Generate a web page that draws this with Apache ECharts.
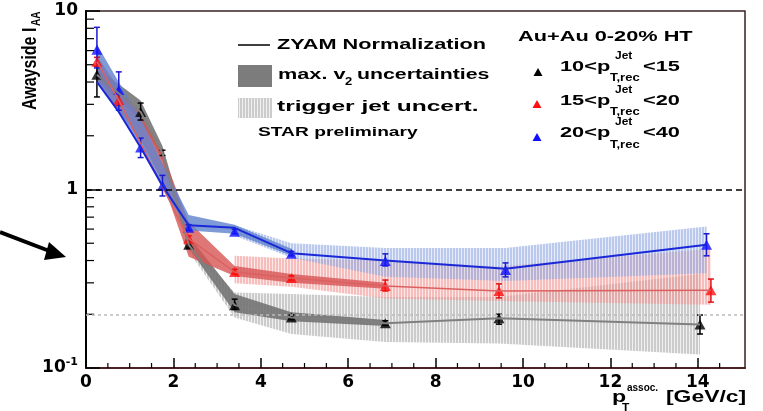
<!DOCTYPE html>
<html><head><meta charset="utf-8">
<script src="https://cdn.jsdelivr.net/npm/echarts@6/dist/echarts.min.js"></script>
<style>html,body{margin:0;padding:0;background:#fff}#c{width:763px;height:411px}</style>
</head><body><div id="c"></div><script>
// ---------- data ----------
// 10 < pT,rec Jet < 15 (black)
const blackX      = [0.25, 1.25, 1.75, 2.35, 3.4, 4.7, 6.85, 9.45, 14.05];
const blackY      = [4.4, 2.72, 1.6, 0.49, 0.225, 0.192, 0.178, 0.19, 0.175];
const blackErrLo  = [3.3, 2.45, 1.55, 0.47, 0.213, 0.187, 0.173, 0.176, 0.155];
const blackErrHi  = [4.9, 3.05, 1.66, 0.52, 0.243, 0.198, 0.184, 0.2, 0.198];
const blackMarkX  = [0.25, 1.25, 2.35, 3.4, 4.7, 6.85, 9.45, 14.05];
const blackMarkY  = [4.4, 2.72, 0.49, 0.225, 0.192, 0.178, 0.19, 0.175];
// 15 < pT,rec Jet < 20 (red)
const redX        = [0.25, 0.75, 2.35, 3.4, 4.7, 6.85, 9.45, 14.3];
const redY        = [5.2, 3.17, 0.53, 0.345, 0.319, 0.288, 0.27, 0.273];
const redErrLo    = [4.9, 2.95, 0.51, 0.335, 0.31, 0.27, 0.247, 0.234];
const redErrHi    = [5.5, 3.4, 0.55, 0.357, 0.328, 0.311, 0.296, 0.315];
// 20 < pT,rec Jet < 40 (blue)
const blueX       = [0.25, 0.75, 1.25, 1.75, 2.35, 3.4, 4.7, 6.85, 9.6, 14.2];
const blueY       = [6.07, 3.61, 1.72, 1.05, 0.61, 0.58, 0.436, 0.398, 0.354, 0.49];
const blueErrLo   = [4.8, 2.78, 1.51, 0.92, 0.59, 0.565, 0.425, 0.373, 0.324, 0.425];
const blueErrHi   = [8.1, 4.56, 1.94, 1.2, 0.635, 0.6, 0.45, 0.436, 0.388, 0.565];
const blueLineY   = [4.0, 2.72, 1.72, 1.05, 0.63, 0.61, 0.44, 0.40, 0.36, 0.49];
// max. v2 uncertainty bands
const grayV2X  = [0.25, 1.25, 1.75, 2.35, 3.4, 4.7, 6.85];
const grayV2Lo = [4.1, 2.45, 1.45, 0.47, 0.205, 0.183, 0.172];
const grayV2Hi = [4.8, 3.15, 1.75, 0.55, 0.26, 0.205, 0.186];
const redV2X   = [0.25, 0.75, 1.25, 1.75, 2.35, 3.4, 4.7, 6.85];
const redV2Lo  = [4.0, 2.75, 1.9, 1.1, 0.42, 0.328, 0.3, 0.278];
const redV2Hi  = [5.6, 3.7, 2.6, 1.6, 0.66, 0.373, 0.336, 0.3];
const blueV2X  = [0.25, 0.75, 1.25, 1.75, 2.35, 3.4, 4.7];
const blueV2Lo = [4.0, 2.72, 1.72, 1.02, 0.59, 0.565, 0.425];
const blueV2Hi = [6.5, 4.0, 2.5, 1.4, 0.72, 0.635, 0.465];
// trigger jet uncertainty bands
const grayJetX  = [2.35, 3.4, 4.7, 6.85, 9.45, 14.05];
const grayJetLo = [0.45, 0.192, 0.155, 0.14, 0.137, 0.119];
const grayJetHi = [0.52, 0.265, 0.26, 0.25, 0.25, 0.336];
const redJetX   = [3.4, 4.7, 6.85, 9.45, 14.3];
const redJetLo  = [0.298, 0.285, 0.245, 0.237, 0.226];
const redJetHi  = [0.425, 0.41, 0.40, 0.37, 0.465];
const blueJetX  = [3.4, 4.7, 6.85, 9.6, 14.2];
const blueJetLo = [0.55, 0.414, 0.325, 0.307, 0.34];
const blueJetHi = [0.63, 0.5, 0.47, 0.47, 0.62];
// reference lines and ticks
const refLines = [1, 0.2];
const yMinorTicks = [0.2, 0.3, 0.4, 0.5, 0.6, 0.7, 0.8, 0.9, 2, 3, 4, 5, 6, 7, 8, 9];
const xMinorTicks = [0.5, 1, 1.5, 2.5, 3, 3.5, 4.5, 5, 5.5, 6.5, 7, 7.5, 8.5, 9, 9.5, 10.5, 11, 11.5, 12.5, 13, 13.5, 14.5];

// ---------- helpers ----------
const FONT = '"Liberation Sans", Arial, Helvetica, sans-serif';
const AXFONT = '"DejaVu Sans", sans-serif';
function hatch(c1, c2) {
  const cv = document.createElement('canvas'); cv.width = 3; cv.height = 4;
  const ctx = cv.getContext('2d');
  ctx.fillStyle = c2; ctx.fillRect(0, 0, 3, 4);
  ctx.fillStyle = c1; ctx.fillRect(0, 0, 2, 4);
  return { image: cv, repeat: 'repeat' };
}
const zip = (xs, ys) => xs.map((x, i) => [x, ys[i]]);
function bandSeries(xs, lo, hi, fill) {
  return {
    type: 'custom', silent: true,
    data: xs.map((x, i) => [x, lo[i], hi[i]]),
    encode: { x: 0, y: [1, 2] },
    renderItem: function (params, api) {
      if (params.dataIndex !== 0) return;
      const pts = [];
      for (let i = 0; i < xs.length; i++) pts.push(api.coord([xs[i], hi[i]]));
      for (let i = xs.length - 1; i >= 0; i--) pts.push(api.coord([xs[i], lo[i]]));
      return { type: 'polygon', shape: { points: pts }, style: { fill: fill, stroke: null } };
    }
  };
}
function errSeries(xs, lo, hi, color) {
  return {
    type: 'custom', silent: true,
    data: xs.map((x, i) => [x, lo[i], hi[i]]),
    encode: { x: 0, y: [1, 2] },
    renderItem: function (params, api) {
      const a = api.coord([api.value(0), api.value(1)]);
      const b = api.coord([api.value(0), api.value(2)]);
      const w = 3, st = { stroke: color, lineWidth: 1.5 };
      return { type: 'group', children: [
        { type: 'line', shape: { x1: a[0], y1: a[1], x2: b[0], y2: b[1] }, style: st },
        { type: 'line', shape: { x1: a[0] - w, y1: a[1], x2: a[0] + w, y2: a[1] }, style: st },
        { type: 'line', shape: { x1: b[0] - w, y1: b[1], x2: b[0] + w, y2: b[1] }, style: st }
      ] };
    }
  };
}
function lineSeries(xs, ys, color, width) {
  return { type: 'line', data: zip(xs, ys), symbol: 'none', silent: true,
    lineStyle: { color: color, width: width }, animation: false };
}
function markSeries(xs, ys, color) {
  return { type: 'scatter', data: zip(xs, ys), symbol: 'triangle', symbolSize: [11, 10],
    itemStyle: { color: color }, silent: true };
}
function txt(x, y, s, size, sx, extra) {
  return Object.assign({ type: 'text', x: x, y: y, scaleX: sx, silent: true,
    style: { text: s, fontSize: size, fontWeight: 'bold', fontFamily: FONT, fill: '#000',
      align: 'left', verticalAlign: 'middle' } }, extra || {});
}

const grayHatch = hatch('rgba(165,165,165,0.5)', 'rgba(215,215,215,0.35)');
const redHatch  = hatch('rgba(240,140,140,0.45)', 'rgba(248,185,185,0.35)');
const blueHatch = hatch('rgba(135,160,222,0.45)', 'rgba(180,198,238,0.35)');

const chart = echarts.init(document.getElementById('c'));

const legendTri = (cx, cy, color) => ({ type: 'polygon', silent: true,
  shape: { points: [[cx, cy - 4], [cx + 4.5, cy + 4], [cx - 4.5, cy + 4]] }, style: { fill: color } });

const graphic = [
  // y axis title
  { type: 'group', x: 30, y: 110, rotation: Math.PI / 2, scaleY: 1.3, silent: true, children: [
    { type: 'text', x: 0, y: 0, style: { text: 'Awayside I', fontSize: 16, fontWeight: 'bold', fontFamily: FONT, fill: '#000', align: 'left', verticalAlign: 'middle' } },
    { type: 'text', x: 84, y: 5, style: { text: 'AA', fontSize: 10, fontWeight: 'bold', fontFamily: FONT, fill: '#000', align: 'left', verticalAlign: 'middle' } }
  ] },
  // x axis title
  txt(612, 398, 'p', 16, 1.45),
  txt(627, 388, 'assoc.', 10, 1.0),
  txt(622, 408, 'T', 10, 1.2),
  txt(666, 398, '[GeV/c]', 16, 1.43),
  // left legend
  { type: 'line', silent: true, shape: { x1: 238, y1: 45, x2: 270, y2: 45 }, style: { stroke: '#000', lineWidth: 1.5 } },
  txt(277, 45, 'ZYAM Normalization', 14, 1.55),
  { type: 'rect', silent: true, shape: { x: 238, y: 65, width: 34, height: 22 }, style: { fill: 'rgba(110,110,110,0.9)' } },
  txt(278, 75, 'max. v', 14, 1.55),
  txt(345, 82, '2', 10, 1.3),
  txt(357, 75, 'uncertainties', 14, 1.52),
  { type: 'rect', silent: true, shape: { x: 238, y: 98, width: 34, height: 20 }, style: { fill: grayHatch } },
  txt(277, 107, 'trigger jet uncert.', 14, 1.75),
  txt(258, 133, 'STAR preliminary', 12, 1.6),
  // right legend
  txt(518, 37, 'Au+Au 0-20% HT', 15, 1.45),
  legendTri(538, 72, '#000'),
  txt(560, 67, '10<p', 15, 1.45), txt(615, 56, 'Jet', 10, 1.2), txt(610, 78, 'T,rec', 10, 1.3), txt(643, 67, '<15', 15, 1.45),
  legendTri(537, 104, '#ff1010'),
  txt(560, 101, '15<p', 15, 1.45), txt(615, 90, 'Jet', 10, 1.2), txt(610, 112, 'T,rec', 10, 1.3), txt(643, 101, '<20', 15, 1.45),
  legendTri(537, 137, '#1010ff'),
  txt(560, 133, '20<p', 15, 1.45), txt(615, 122, 'Jet', 10, 1.2), txt(610, 145, 'T,rec', 10, 1.3), txt(643, 133, '<40', 15, 1.45),
  // arrow on the left
  { type: 'line', silent: true, shape: { x1: 0, y1: 232, x2: 52, y2: 252 }, style: { stroke: '#000', lineWidth: 4 } },
  { type: 'polygon', silent: true, shape: { points: [[49, 242], [66, 257], [44, 260]] }, style: { fill: '#000' } }
];

const option = {
  animation: false,
  backgroundColor: '#fff',
  grid: { left: 86, right: 18, top: 11, bottom: 43, show: true, borderColor: '#3a2020', borderWidth: 1.5 },
  xAxis: {
    type: 'value', min: 0, max: 15.08, interval: 2,
    axisLine: { show: true, lineStyle: { color: '#4b2020', width: 2 } },
    axisTick: { show: true, inside: true, length: 10, lineStyle: { color: '#000', width: 1.5 } },
    minorTick: { show: false }, splitLine: { show: false },
    axisLabel: { showMaxLabel: false, color: '#000', fontWeight: 'bold', fontSize: 17, fontFamily: AXFONT, margin: 6 }
  },
  yAxis: {
    type: 'log', min: 0.1, max: 10, logBase: 10,
    axisLine: { show: true, lineStyle: { color: '#000', width: 2 } },
    axisTick: { show: true, inside: true, length: 14, lineStyle: { color: '#000', width: 1.5 } },
    splitLine: { show: false }, minorTick: { show: false },
    axisLabel: {
      margin: 8, color: '#000',
      formatter: function (v) {
        const e = Math.round(Math.log10(v));
        if (e === 1) return '{m|10}';
        if (e === 0) return '{m|1}';
        return '{m|10}{s|-1}';
      },
      rich: {
        m: { fontSize: 17, fontWeight: 'bold', fontFamily: AXFONT, lineHeight: 22 },
        s: { fontSize: 11, fontWeight: 'bold', fontFamily: AXFONT, verticalAlign: 'top' }
      }
    }
  },
  graphic: graphic,
  series: [
    Object.assign(bandSeries(grayJetX, grayJetLo, grayJetHi, grayHatch), {
      markLine: { silent: true, symbol: ['none', 'none'], label: { show: false },
        data: [{ yAxis: refLines[1], lineStyle: { color: '#bbbbbb', type: [3, 3], width: 1.5 } }] }
    }),
    lineSeries(blackX, blackY, '#808080', 2),
    lineSeries(redX, redY, '#dc6060', 1.5),
    bandSeries(grayV2X, grayV2Lo, grayV2Hi, 'rgba(110,110,110,0.85)'),
    bandSeries(redJetX, redJetLo, redJetHi, redHatch),
    bandSeries(redV2X, redV2Lo, redV2Hi, 'rgba(215,85,85,0.8)'),
    bandSeries(blueJetX, blueJetLo, blueJetHi, blueHatch),
    bandSeries(blueV2X, blueV2Lo, blueV2Hi, 'rgba(95,130,205,0.8)'),
    Object.assign(lineSeries(blueX, blueLineY, '#1a28d8', 2), {
      markLine: { silent: true, symbol: ['none', 'none'], label: { show: false },
        data: [{ yAxis: refLines[0], lineStyle: { color: '#000', type: [6, 4], width: 1.5 } }] }
    }),
    errSeries(blackX, blackErrLo, blackErrHi, '#000'),
    errSeries(redX, redErrLo, redErrHi, '#e01010'),
    errSeries(blueX, blueErrLo, blueErrHi, '#1a1ad0'),
    markSeries(blackMarkX, blackMarkY, '#000'),
    markSeries(redX, redY, '#ff1010'),
    markSeries(blueX, blueY, '#1010ff'),
    // minor ticks
    { type: 'custom', silent: true, data: yMinorTicks.map(v => [0, v]), encode: { x: 0, y: 1 },
      renderItem: function (params, api) {
        const p = api.coord([0, api.value(1)]);
        return { type: 'line', shape: { x1: p[0], y1: p[1], x2: p[0] + 8, y2: p[1] }, style: { stroke: '#000', lineWidth: 1.2 } };
      } },
    { type: 'custom', silent: true, data: xMinorTicks.map(v => [v, 0.1]), encode: { x: 0, y: 1 },
      renderItem: function (params, api) {
        const p = api.coord([api.value(0), 0.1]);
        return { type: 'line', shape: { x1: p[0], y1: p[1], x2: p[0], y2: p[1] - 5 }, style: { stroke: '#000', lineWidth: 1.2 } };
      } }
  ]
};
chart.setOption(option);
</script></body></html>
